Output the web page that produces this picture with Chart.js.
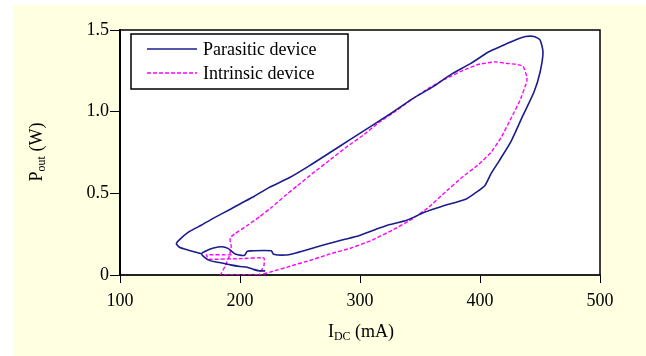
<!DOCTYPE html>
<html>
<head>
<meta charset="utf-8">
<script src="https://cdn.jsdelivr.net/npm/chart.js@4.4.1/dist/chart.umd.min.js"></script>
<style>
  html, body { margin: 0; padding: 0; background: #fff; }
  #wrap { width: 646px; height: 356px; }
</style>
</head>
<body>
<div id="wrap"><canvas id="chart"></canvas></div>
<script>
// axis ticks
const xTicks = [100, 200, 300, 400, 500];
const yTicks = [0, 0.5, 1.0, 1.5];

// Parasitic device loop (I_DC in mA, P_out in W), traced in drawing order
const parasiticX = [221, 215, 211, 206, 200, 192, 186, 180, 175, 171, 168,
  172, 178, 185, 190, 193, 196, 201, 204, 206, 209, 226, 228, 238,
  245, 254, 268, 285, 299, 313, 323, 339, 354, 368, 388, 395, 404, 409, 416, 426, 436, 445, 450, 452.5,
  450, 445, 438, 432, 419, 407, 392, 375, 361, 344, 327, 309, 292, 275, 258, 241, 224, 212, 200, 192,
  178, 168, 157, 149, 147, 150, 157, 168];
const parasiticY = [0.025, 0.027, 0.035, 0.047, 0.052, 0.062, 0.072, 0.080, 0.088, 0.105, 0.130,
  0.148, 0.165, 0.173, 0.163, 0.145, 0.128, 0.120, 0.122, 0.145, 0.148, 0.148, 0.127, 0.122,
  0.132, 0.150, 0.180, 0.214, 0.240, 0.279, 0.305, 0.335, 0.385, 0.420, 0.464, 0.497, 0.547, 0.618, 0.699, 0.820, 0.980, 1.120, 1.240, 1.365,
  1.440, 1.460, 1.460, 1.446, 1.405, 1.365, 1.294, 1.224, 1.153, 1.080, 0.995, 0.910, 0.830, 0.750, 0.670, 0.595, 0.535, 0.482, 0.435, 0.403,
  0.348, 0.306, 0.262, 0.212, 0.190, 0.168, 0.152, 0.130];

// Intrinsic device loop
const intrinsicX = [193, 172, 174, 200, 220, 220, 216,
  227, 241, 258, 275, 292, 309, 327, 344, 357.5, 371, 385, 399, 409, 417.5, 426, 433.5, 439, 439,
  436, 430, 423, 412.5, 399, 385, 371, 357.5, 344, 330, 316, 302.5, 289, 275, 261, 247.5, 237, 227, 216.5, 206.5, 196, 192,
  191.7, 192.7, 191, 187.5, 184, 216];
const intrinsicY = [0.123, 0.123, 0.097, 0.100, 0.105, 0.060, 0.000,
  0.022, 0.052, 0.089, 0.129, 0.164, 0.210, 0.275, 0.345, 0.416, 0.507, 0.598, 0.678, 0.749, 0.840, 0.961, 1.072, 1.183, 1.213,
  1.278, 1.290, 1.295, 1.305, 1.290, 1.250, 1.200, 1.145, 1.080, 1.005, 0.935, 0.855, 0.785, 0.705, 0.625, 0.545, 0.482, 0.418, 0.358, 0.305, 0.254, 0.230,
  0.214, 0.174, 0.113, 0.052, 0.000, 0.000];

const seriesNames = ['Parasitic device', 'Intrinsic device'];
const seriesColors = ['#1c1c8c', '#ff00ff'];

const toPoints = (xs, ys) => xs.map((x, i) => ({ x: x, y: ys[i] }));

const serif = '"Liberation Serif", "Times New Roman", serif';

// page background and plot frame
const framePlugin = {
  id: 'frame',
  beforeDraw(chart) {
    const ctx = chart.ctx;
    const a = chart.chartArea;
    ctx.save();
    ctx.fillStyle = '#ffffff';
    ctx.fillRect(0, 0, chart.width, chart.height);
    ctx.fillStyle = '#ffffe1';
    ctx.fillRect(13, 5, chart.width - 13, chart.height - 5);
    ctx.fillStyle = '#ffffff';
    ctx.fillRect(a.left, a.top, a.right - a.left, a.bottom - a.top);
    ctx.restore();
  },
  afterDraw(chart) {
    const ctx = chart.ctx;
    const a = chart.chartArea;
    ctx.save();
    ctx.strokeStyle = '#000';
    ctx.lineWidth = 1.5;
    ctx.beginPath();
    ctx.moveTo(a.left, a.top);
    ctx.lineTo(a.right, a.top);
    ctx.lineTo(a.right, a.bottom);
    ctx.stroke();
    ctx.restore();
  }
};

// axis titles with subscripts
function drawSubText(ctx, parts, cx, cy) {
  let total = 0;
  parts.forEach(p => { ctx.font = p.size + 'px ' + serif; total += ctx.measureText(p.text).width; });
  let x = cx - total / 2;
  parts.forEach(p => {
    ctx.font = p.size + 'px ' + serif;
    ctx.fillText(p.text, x, cy + (p.dy || 0));
    x += ctx.measureText(p.text).width;
  });
}

const titlePlugin = {
  id: 'titles',
  afterDraw(chart) {
    const ctx = chart.ctx;
    ctx.save();
    ctx.fillStyle = '#000';
    ctx.textBaseline = 'alphabetic';
    ctx.textAlign = 'left';
    drawSubText(ctx, [
      { text: 'I', size: 18 },
      { text: 'DC', size: 12, dy: 3 },
      { text: ' (mA)', size: 18 }
    ], 361, 337);
    ctx.translate(42, 152);
    ctx.rotate(-Math.PI / 2);
    drawSubText(ctx, [
      { text: 'P', size: 18 },
      { text: 'out', size: 12, dy: 3 },
      { text: ' (W)', size: 18 }
    ], 0, 0);
    ctx.restore();
  }
};

// boxed legend inside the plot
const legendPlugin = {
  id: 'boxLegend',
  afterDraw(chart) {
    const ctx = chart.ctx;
    ctx.save();
    ctx.fillStyle = '#fff';
    ctx.fillRect(131, 34, 217, 55);
    ctx.strokeStyle = '#000';
    ctx.lineWidth = 1.5;
    ctx.strokeRect(131, 34, 217, 55);
    chart.data.datasets.forEach((ds, i) => {
      const y = 49 + i * 24;
      ctx.strokeStyle = ds.borderColor;
      ctx.lineWidth = ds.borderWidth;
      ctx.setLineDash(ds.borderDash || []);
      ctx.beginPath();
      ctx.moveTo(147, y);
      ctx.lineTo(197, y);
      ctx.stroke();
      ctx.setLineDash([]);
      ctx.fillStyle = '#000';
      ctx.font = '18px ' + serif;
      ctx.textBaseline = 'middle';
      ctx.fillText(ds.label, 203, y + 1);
    });
    ctx.restore();
  }
};

new Chart(document.getElementById('chart'), {
  type: 'scatter',
  data: {
    datasets: [
      {
        label: seriesNames[0],
        data: toPoints(parasiticX, parasiticY),
        showLine: true,
        borderColor: seriesColors[0],
        borderWidth: 1.6,
        pointRadius: 0,
        tension: 0.2,
        fill: false
      },
      {
        label: seriesNames[1],
        data: toPoints(intrinsicX, intrinsicY),
        showLine: true,
        borderColor: seriesColors[1],
        borderWidth: 1.4,
        borderDash: [4, 2],
        pointRadius: 0,
        tension: 0.1,
        fill: false
      }
    ]
  },
  options: {
    responsive: true,
    maintainAspectRatio: false,
    animation: false,
    devicePixelRatio: 1,
    layout: { padding: { left: 0, top: 30, right: 46, bottom: 0 } },
    plugins: {
      legend: { display: false },
      tooltip: { enabled: false }
    },
    scales: {
      x: {
        type: 'linear',
        min: xTicks[0],
        max: xTicks[xTicks.length - 1],
        afterBuildTicks: s => { s.ticks = xTicks.map(v => ({ value: v })); },
        afterFit: s => { s.height = 81; },
        ticks: {
          color: '#000',
          font: { family: serif, size: 18 },
          padding: 7,
          maxRotation: 0,
          callback: v => String(v)
        },
        grid: { drawOnChartArea: false, drawTicks: true, tickLength: 8, color: '#000' },
        border: { display: true, color: '#222', width: 2 }
      },
      y: {
        type: 'linear',
        min: yTicks[0],
        max: yTicks[yTicks.length - 1],
        afterBuildTicks: s => { s.ticks = yTicks.map(v => ({ value: v })); },
        afterFit: s => { s.width = 120; },
        ticks: {
          color: '#000',
          font: { family: serif, size: 18 },
          padding: 1,
          callback: v => (v === 0 ? '0' : v.toFixed(1))
        },
        grid: { drawOnChartArea: false, drawTicks: true, tickLength: 10, color: '#000' },
        border: { display: true, color: '#000', width: 2 }
      }
    }
  },
  plugins: [framePlugin, titlePlugin, legendPlugin]
});
</script>
</body>
</html>
